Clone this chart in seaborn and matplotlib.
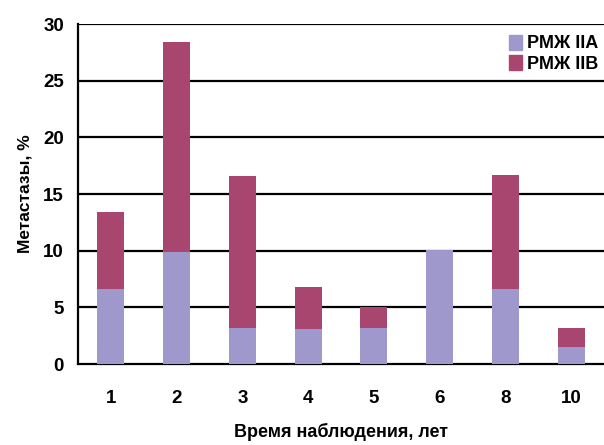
import pandas as pd
import numpy as np
import seaborn as sns
import matplotlib.pyplot as plt
from matplotlib.patches import Patch

# Data
years = ['1', '2', '3', '4', '5', '6', '8', '10']
iia = [6.6, 9.9, 3.2, 3.1, 3.2, 10.1, 6.6, 1.5]
iib = [6.8, 18.5, 13.4, 3.7, 1.8, 0.0, 10.1, 1.7]

df = pd.DataFrame({'year': years, 'iia': iia, 'iib': iib})
df['total'] = df['iia'] + df['iib']

sns.set_style('white')
plt.rcParams['font.family'] = ['Liberation Sans', 'DejaVu Sans']
plt.rcParams['font.weight'] = 'bold'
plt.rcParams['text.color'] = 'black'
plt.rcParams['axes.labelcolor'] = 'black'
plt.rcParams['axes.labelweight'] = 'bold'
plt.rcParams['xtick.color'] = 'black'
plt.rcParams['ytick.color'] = 'black'

c_a = '#9f98cc'
c_b = '#a8466f'

fig = plt.figure(figsize=(6.04, 4.45), dpi=100)
ax = fig.add_axes([0.129, 0.182, 0.871, 0.764])

sns.barplot(data=df, x='year', y='total', order=years, color=c_b,
            saturation=1, width=0.41, linewidth=0, ax=ax, zorder=3)
sns.barplot(data=df, x='year', y='iia', order=years, color=c_a,
            saturation=1, width=0.41, linewidth=0, ax=ax, zorder=4)

ax.set_ylim(0, 30)
ax.set_xlim(-0.5, len(years) - 0.5)
ax.set_yticks(range(0, 31, 5))
for y in range(5, 31, 5):
    ax.axhline(y, color='black', lw=1.6, zorder=1)

for s in ['top', 'right']:
    ax.spines[s].set_visible(False)
ax.spines['left'].set_color('black')
ax.spines['bottom'].set_color('black')
ax.spines['left'].set_linewidth(1.6)
ax.spines['bottom'].set_linewidth(1.6)

# category labels without ticks, ticks on category boundaries
ax.set_xticks(np.arange(len(years)))
ax.set_xticklabels(years, fontsize=13.5)
ax.tick_params(axis='x', length=0, pad=19)
ax.set_xticks(np.arange(len(years)) - 0.5, minor=True)
ax.tick_params(axis='x', which='minor', length=5, width=1.6, direction='out')
ax.tick_params(axis='y', length=5, width=1.6, direction='out', labelsize=13.5, pad=5)

ax.set_xlabel('Время наблюдения, лет', fontsize=13, labelpad=11)
ax.set_ylabel('Метастазы, %', fontsize=12.5, labelpad=8)

handles = [Patch(color=c_a, label='РМЖ IIA'), Patch(color=c_b, label='РМЖ IIB')]
leg = ax.legend(handles=handles, loc='upper right', bbox_to_anchor=(1.0, 0.985),
                frameon=True, fontsize=13, handlelength=0.7, handleheight=0.9,
                handletextpad=0.3, labelspacing=0.15, borderpad=0.2, borderaxespad=0.1)
leg.get_frame().set_edgecolor('white')
leg.get_frame().set_alpha(1)
leg.set_zorder(5)

fig.savefig('out.png', dpi=100)
